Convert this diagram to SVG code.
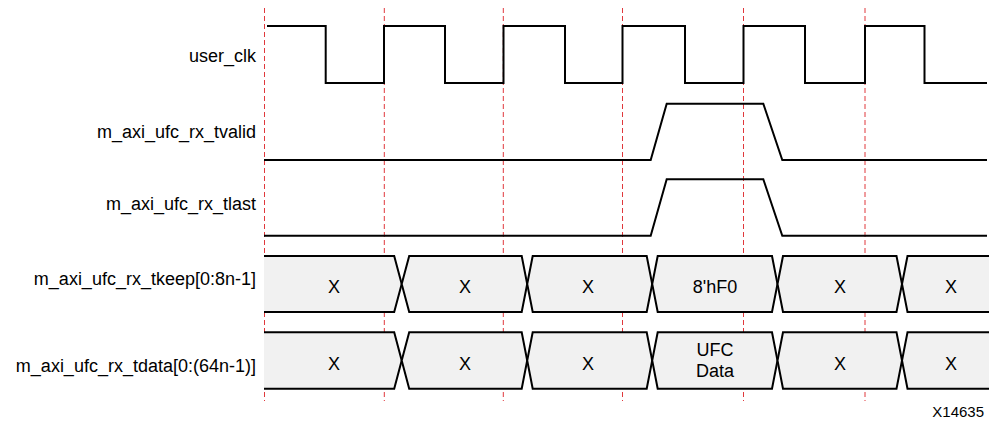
<svg xmlns="http://www.w3.org/2000/svg" width="989" height="422" viewBox="0 0 989 422">
<style>
.lbl{font-family:"Liberation Sans",Arial,sans-serif;font-size:18px;fill:#000;text-anchor:end}
.val{font-family:"Liberation Sans",Arial,sans-serif;font-size:18px;fill:#000;text-anchor:middle}
.note{font-family:"Liberation Sans",Arial,sans-serif;font-size:15px;fill:#000;text-anchor:end}
.grid{stroke:#e0383c;stroke-width:1;stroke-dasharray:5,3;fill:none}
.sig{stroke:#000;stroke-width:2;fill:none;stroke-linejoin:miter}
.bus{stroke:#000;stroke-width:2;fill:#f1f1f1;stroke-linejoin:miter}
</style>
<rect width="989" height="422" fill="#fff"/>
<g id="grid">
<line class="grid" x1="264.5" y1="8" x2="264.5" y2="401"/>
<line class="grid" x1="384.3" y1="8" x2="384.3" y2="401"/>
<line class="grid" x1="503.3" y1="8" x2="503.3" y2="401"/>
<line class="grid" x1="622.5" y1="8" x2="622.5" y2="401"/>
<line class="grid" x1="743.5" y1="8" x2="743.5" y2="401"/>
<line class="grid" x1="865" y1="8" x2="865" y2="401"/>
</g>
<g id="labels">
<text class="lbl" x="256" y="62">user_clk</text>
<text class="lbl" x="256" y="138">m_axi_ufc_rx_tvalid</text>
<text class="lbl" x="256" y="210">m_axi_ufc_rx_tlast</text>
<text class="lbl" x="256" y="284.5">m_axi_ufc_rx_tkeep[0:8n-1]</text>
<text class="lbl" x="256" y="371.5">m_axi_ufc_rx_tdata[0:(64n-1)]</text>
</g>
<g id="user_clk">
<path class="sig" d="M267,26 H325.7 V83 H384 V26 H445 V83 H503.5 V26 H565 V83 H622.5 V26 H685 V83 H743.5 V26 H805 V83 H865 V26 H924.5 V83 H987"/>
</g>
<g id="tvalid">
<path class="sig" d="M264,160 H650.7 L666.7,103.7 H763.3 L782.3,160 H987"/>
</g>
<g id="tlast">
<path class="sig" d="M264,235.7 H650.7 L666.7,179.3 H763.3 L782.3,235.7 H987"/>
</g>
<g id="tkeep">
<path class="bus" d="M264,256 H394.2 L401.7,284 L394.2,312 H264"/>
<path class="bus" d="M409.2,256 L401.7,284 L409.2,312 H521.7 L527.2,284 L521.7,256 Z"/>
<path class="bus" d="M532.7,256 L527.2,284 L532.7,312 H646.7 L652.2,284 L646.7,256 Z"/>
<path class="bus" d="M657.7,256 L652.2,284 L657.7,312 H772 L777.5,284 L772,256 Z"/>
<path class="bus" d="M783,256 L777.5,284 L783,312 H896.5 L902,284 L896.5,256 Z"/>
<path class="bus" d="M990,256 H907.5 L902,284 L907.5,312 H990"/>
<text class="val" x="334" y="292.5">X</text>
<text class="val" x="465" y="292.5">X</text>
<text class="val" x="588" y="292.5">X</text>
<text class="val" x="715" y="292.5">8'hF0</text>
<text class="val" x="840" y="292.5">X</text>
<text class="val" x="951" y="292.5">X</text>
</g>
<g id="tdata">
<path class="bus" d="M264,332.3 H394.2 L401.7,360.5 L394.2,388.7 H264"/>
<path class="bus" d="M409.2,332.3 L401.7,360.5 L409.2,388.7 H521.7 L527.2,360.5 L521.7,332.3 Z"/>
<path class="bus" d="M532.7,332.3 L527.2,360.5 L532.7,388.7 H646.7 L652.2,360.5 L646.7,332.3 Z"/>
<path class="bus" d="M657.7,332.3 L652.2,360.5 L657.7,388.7 H772 L777.5,360.5 L772,332.3 Z"/>
<path class="bus" d="M783,332.3 L777.5,360.5 L783,388.7 H896.5 L902,360.5 L896.5,332.3 Z"/>
<path class="bus" d="M990,332.3 H907.5 L902,360.5 L907.5,388.7 H990"/>
<text class="val" x="334" y="370">X</text>
<text class="val" x="465" y="370">X</text>
<text class="val" x="588" y="370">X</text>
<text class="val" x="715" y="356">UFC</text>
<text class="val" x="715" y="377">Data</text>
<text class="val" x="840" y="370">X</text>
<text class="val" x="951" y="370">X</text>
</g>
<text class="note" x="984" y="417">X14635</text>
</svg>
